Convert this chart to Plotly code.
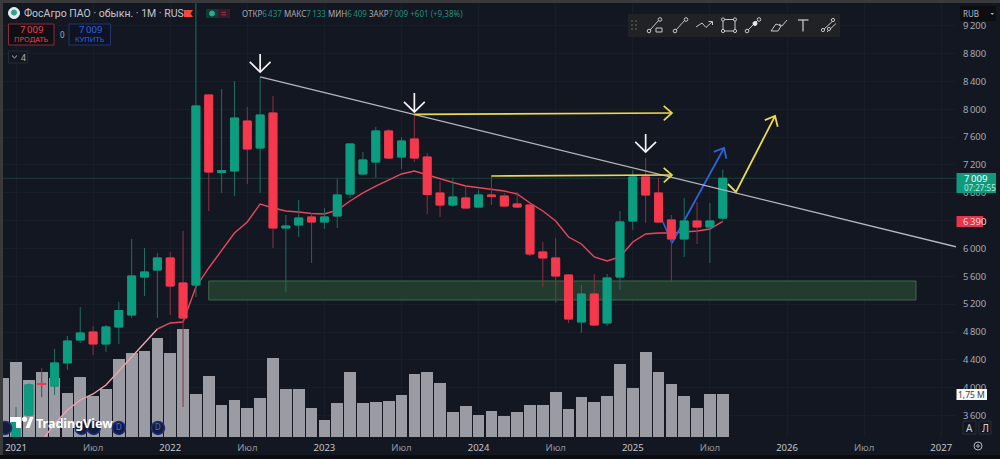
import math
import plotly.graph_objects as go

# Monthly candles, January 2021 onwards (months counted from January 2021)
opens = [3250, 3607, 4060, 4024, 4355, 4685, 4800, 4628, 4872, 5044, 5590, 5691, 5864, 5504, 5475, 8206,
         7092, 7114, 7832, 7444, 7947, 6295, 6338, 6453, 6381, 6467, 6783, 7071, 7243, 7689, 7315, 7574,
         7315, 6798, 6625, 6726, 6596, 6769, 6754, 6640, 6625, 5950, 5864, 5619, 4944, 5346, 4930, 5590,
         6395, 7028, 6798, 6410, 6137, 6395, 6309, 6437]
highs = [3720, 4060, 4283, 4556, 4743, 5159, 4886, 4901, 5231, 6137, 6007, 5935, 5950, 6252, 9600, 8206,
         8292, 8407, 8033, 8465, 8191, 6481, 6697, 6510, 6582, 7000, 7510, 7387, 7746, 7717, 7602, 7918,
         7372, 6970, 7013, 6884, 6841, 7056, 6798, 6812, 6630, 6093, 6151, 5625, 5475, 5634, 5634, 6539,
         7128, 7300, 7013, 6481, 6726, 6668, 6654, 7133]
lows = [3240, 3590, 3866, 3895, 4254, 4642, 4470, 4513, 4628, 5001, 5317, 5001, 5044, 3722, 5303, 6539,
        6797, 6754, 6927, 6797, 6007, 5375, 6165, 5792, 6280, 6295, 6726, 7060, 7013, 7290, 7142, 7243,
        6496, 6453, 6596, 6568, 6589, 6625, 6596, 6582, 5892, 5447, 5217, 4930, 4786, 4886, 4886, 5404,
        6266, 6367, 6375, 5519, 5878, 6065, 5792, 6409]
closes = [3510, 4039, 4045, 4355, 4671, 4786, 4628, 4872, 5109, 5605, 5662, 5864, 5461, 5001, 8048, 7099,
          7121, 7875, 7430, 7918, 6295, 6323, 6438, 6381, 6453, 6769, 7502, 7272, 7689, 7300, 7545, 7300,
          6776, 6625, 6740, 6582, 6769, 6747, 6611, 6596, 5921, 5864, 5605, 4987, 5346, 4901, 5576, 6381,
          7028, 6769, 6381, 6137, 6395, 6309, 6395, 7009]

# Moving average, first defined in March 2021
ma_values = [3234, 3478, 3679, 3823, 3909, 4039, 4240, 4441, 4628, 4843, 4930, 4944, 5447, 5720, 5964, 6223,
             6381, 6640, 6582, 6539, 6525, 6503, 6496, 6553, 6683, 6798, 6898, 6984, 7071, 7114, 7056, 6999,
             6948, 6898, 6877, 6855, 6826, 6783, 6654, 6539, 6395, 6165, 6065, 5878, 5820, 5878, 6093, 6208,
             6223, 6223, 6237, 6252, 6280, 6390]

# Traded volume in millions, December 2020 onwards
volumes = [2.40, 3.05, 2.32, 2.65, 2.40, 1.79, 2.44, 1.67, 1.95, 3.17, 3.42, 3.50, 4.03, 3.42, 4.40, 1.75,
           2.48, 1.30, 1.51, 1.18, 1.59, 3.22, 1.95, 1.95, 1.18, 0.69, 1.38, 2.65, 1.38, 1.42, 1.47, 1.71,
           2.56, 2.65, 2.20, 1.02, 1.26, 0.90, 1.06, 0.85, 1.02, 1.30, 1.30, 1.83, 1.14, 1.63, 1.42, 1.67,
           2.97, 1.99, 3.46, 2.65, 2.16, 1.67, 1.18, 1.75, 1.75]

# Time axis
time_ticks = [0, 6, 12, 18, 24, 30, 36, 42, 48, 54, 60, 66, 72]
time_labels = ["2021", "Июл", "2022", "Июл", "2023", "Июл", "2024", "Июл", "2025", "Июл", "2026", "Июл", "2027"]

# Price axis; the 6 400 label sits behind the moving-average badge
price_ticks = [3600, 4000, 4400, 4800, 5200, 5600, 6000, 6400, 6800, 7200, 7600, 8000, 8400, 8800, 9200]
price_labels = ["" if p == 6400 else f"{p // 1000}\u2009{p % 1000:03d}" for p in price_ticks]

# Hand-drawn annotations: month index and price
trend_x, trend_y = [19, 73.15], [8465, 6025]
zone_x, zone_y = [15, 70.04], [5260, 5533]
peak_arrows = [([19, 19], [8795, 8536]), ([31, 31], [8235, 7962]), ([49, 49], [7645, 7387])]
level_arrows = [([31, 51.05], [7926, 7947]), ([37, 51.05], [7042, 7056])]
breakout_x, breakout_y = [55.4, 56.03, 59.07], [6927, 6812, 7904]
rebound_x, rebound_y = [50.35, 51.05, 55.1], [6381, 6079, 7444]
dividend_months = [-0.85, 5.1, 6.05, 8, 11.05]
dividend_marks = ["", "", "", "D", "D"]
dividend_price = 3421
last_price = 7009

BG = "#131722"
GRID = "#191d28"
GREEN = "#0c9c80"
RED = "#f5384c"
GREEN_WICK = "#1d6f62"
RED_WICK = "#8c3040"
YELLOW = "#ecd94f"
BLUE = "#2f62d9"
WHITE = "#f2f2f2"
TEXT = "#b2b5be"
FONT = "Noto Sans"
THIN = "\u2009"

W, H = 1000, 459
LEFT, RIGHT, TOP, BOTTOM = 3, 956, 3, 437
MONTH_PX = 12.85
PRICE_PX = 0.0696


def px(x):
    return x / W


def py(y):
    return 1 - y / H


def arrow_head(xs, ys, length, spread=0.72):
    """Open chevron at the end of a polyline, sized in screen units."""
    dx = (xs[-1] - xs[-2]) * MONTH_PX
    dy = (ys[-1] - ys[-2]) * PRICE_PX
    n = math.hypot(dx, dy)
    dx, dy = dx / n, dy / n
    out_x, out_y = [], []
    for sign in (-1, 1):
        c, s = math.cos(sign * spread), math.sin(sign * spread)
        rx, ry = dx * c - dy * s, dx * s + dy * c
        out_x.append(xs[-1] - rx * length / MONTH_PX)
        out_y.append(ys[-1] - ry * length / PRICE_PX)
    return [out_x[0], xs[-1], out_x[1]], [out_y[0], ys[-1], out_y[1]]


fig = go.Figure()
candle_x = list(range(len(opens)))
volume_x = list(range(-1, len(volumes) - 1))
ma_x = list(range(2, 2 + len(ma_values)))
SPLIT = 9  # the average runs through the volume bars up to here


def polyline(xs, ys, color, width, axis):
    fig.add_trace(go.Scatter(x=xs, y=ys, mode="lines", yaxis=axis, hoverinfo="skip", showlegend=False,
                             line=dict(color=color, width=width)))


# Bottom layer: volume histogram
fig.add_trace(go.Bar(x=volume_x, y=volumes, width=0.91, yaxis="y", marker=dict(color="#9b9ba3", line_width=0),
                     showlegend=False, hoverinfo="skip"))

# Support zone and last-price line
fig.add_trace(go.Scatter(x=[zone_x[0], zone_x[1], zone_x[1], zone_x[0], zone_x[0]],
                         y=[zone_y[0], zone_y[0], zone_y[1], zone_y[1], zone_y[0]],
                         mode="lines", fill="toself", fillcolor="#233a2f", yaxis="y2", hoverinfo="skip",
                         showlegend=False, line=dict(color="#3d6a48", width=1)))
polyline([-1.01, 73.15], [last_price, last_price], "#1a3f3b", 1, "y2")

# Moving average and the rebound arrow sit under the candles
polyline(ma_x[:SPLIT + 1], ma_values[:SPLIT + 1], "#f0a3ac", 1.4, "y2")
polyline(ma_x[SPLIT:], ma_values[SPLIT:], "#e8485c", 1.4, "y2")
polyline(rebound_x, rebound_y, BLUE, 1.8, "y2")
hx, hy = arrow_head(rebound_x, rebound_y, 11)
polyline(hx, hy, BLUE, 1.8, "y2")

# Candles: wicks from the full range, bodies from open and close only
fig.add_trace(go.Candlestick(x=candle_x, open=opens, high=highs, low=lows, close=closes, yaxis="y3",
                             whiskerwidth=0, showlegend=False, hoverinfo="skip",
                             increasing=dict(line=dict(color=GREEN_WICK, width=1), fillcolor=GREEN),
                             decreasing=dict(line=dict(color=RED_WICK, width=1), fillcolor=RED)))
body_high = [max(o, c) for o, c in zip(opens, closes)]
body_low = [min(o, c) for o, c in zip(opens, closes)]
fig.add_trace(go.Candlestick(x=candle_x, open=opens, high=body_high, low=body_low, close=closes, yaxis="y3",
                             whiskerwidth=0, showlegend=False, hoverinfo="skip",
                             increasing=dict(line=dict(color=GREEN, width=1), fillcolor=GREEN),
                             decreasing=dict(line=dict(color=RED, width=1), fillcolor=RED)))

# Top layer: trend line, arrows, dividend marks
polyline(trend_x, trend_y, "#b6b8c0", 1.3, "y4")
for xs, ys in peak_arrows:
    polyline(xs, ys, WHITE, 1.7, "y4")
    hx, hy = arrow_head(xs, ys, 14.5, 0.8)
    polyline(hx, hy, WHITE, 1.7, "y4")
for xs, ys in level_arrows:
    polyline(xs, ys, YELLOW, 1.7, "y4")
    hx, hy = arrow_head(xs, ys, 11)
    polyline(hx, hy, YELLOW, 1.7, "y4")
polyline(breakout_x, breakout_y, YELLOW, 1.8, "y4")
hx, hy = arrow_head(breakout_x, breakout_y, 11)
polyline(hx, hy, YELLOW, 1.8, "y4")

fig.add_trace(go.Scatter(x=dividend_months, y=[dividend_price] * len(dividend_months), mode="markers+text",
                         yaxis="y4", text=dividend_marks, textposition="middle center",
                         textfont=dict(family=FONT, size=8, color="#3f6fe0"), hoverinfo="skip", showlegend=False,
                         marker=dict(size=13, color="#141c3c", line=dict(color="#1c2f7a", width=1.5))))

shapes = []
annotations = []


def label(x, y, text, size=11, color=TEXT, anchor="left", family=FONT):
    annotations.append(dict(x=px(x), y=py(y), xref="paper", yref="paper", text=text, showarrow=False,
                            xanchor=anchor, yanchor="middle", align=anchor,
                            font=dict(family=family, size=size, color=color), borderpad=0))


def seg(x0, y0, x1, y1, color="#c8c8c8", width=1):
    shapes.append(dict(type="line", xref="paper", yref="paper", x0=px(x0), y0=py(y0), x1=px(x1), y1=py(y1),
                       line=dict(color=color, width=width)))


def box(x0, y0, x1, y1, fill, line="rgba(0,0,0,0)", width=1, layer="above"):
    shapes.append(dict(type="rect", xref="paper", yref="paper", x0=px(x0), y0=py(y0), x1=px(x1), y1=py(y1),
                       fillcolor=fill, line=dict(color=line, width=width), layer=layer))


def dot(cx, cy, r, fill="rgba(0,0,0,0)", line="#c8c8c8", width=1):
    shapes.append(dict(type="circle", xref="paper", yref="paper", x0=px(cx - r), y0=py(cy - r), x1=px(cx + r),
                       y1=py(cy + r), fillcolor=fill, line=dict(color=line, width=width)))


def path(points, fill="rgba(0,0,0,0)", line="rgba(0,0,0,0)", width=1, close=True):
    d = "M" + " L".join(f"{px(x):.5f},{py(y):.5f}" for x, y in points) + (" Z" if close else "")
    shapes.append(dict(type="path", xref="paper", yref="paper", path=d, fillcolor=fill,
                       line=dict(color=line, width=width)))


# Window edges
box(0, 0, W, 3, "#3a3a3c")
box(0, 0, 3, H, "#3a3a3c")
box(0, 455, W, H, "#0b0c10")

# Title row
dot(14, 13, 5.5, "#e8eeee", "#e8eeee")
dot(14, 12.5, 2.6, "#2aa58e", "#2aa58e")
label(23, 13.5, "ФосАгро ПАО · обыкн. · 1М · RUS", 10.5, "#c4c6cc", family="Roboto")
path([(184, 10), (193, 10), (190.5, 13.5), (193, 17), (184, 17)], fill="#f04a3c")
box(206, 9, 218, 18, "#123a35")
box(218, 9, 230, 18, "#3a1a28")
dot(212, 13.5, 2.5, "#1fae92", "#1fae92")
seg(221.5, 12.3, 226, 12.3, "#a8304a", 1)
seg(221.5, 14.8, 226, 14.8, "#a8304a", 1)
val = '<span style="color:#1f8f7b">{}</span>'
label(241, 13.5, "ОТКР" + val.format(f"6{THIN}437") + " МАКС" + val.format(f"7{THIN}133") + " МИН"
      + val.format(f"6{THIN}409") + " ЗАКР" + val.format(f"7{THIN}009") + " " + val.format("+601 (+9,38%)"),
      8, "#a6a9b2")

# Order buttons
box(8.5, 24, 54, 45, "#0f0f14", "#8a2c36")
label(31, 30, f"7{THIN}009", 9.5, "#f0414f", "center")
label(31, 39, "ПРОДАТЬ", 7.5, "#f0414f", "center")
label(62, 34.5, "0", 8, "#a6a9b2", "center")
box(69, 24, 110.5, 45, "#0f1220", "#22376f")
label(90, 30, f"7{THIN}009", 9.5, "#2f62e8", "center")
label(90, 39, "КУПИТЬ", 7.5, "#2f62e8", "center")
box(8.5, 51, 27.5, 63, BG, "#262a35")
path([(12, 55.5), (14.5, 58), (17, 55.5)], line="#b8bbc2", close=False)
label(23, 57, "4", 8.5, "#b8bbc2", "center")

# Drawing toolbar
box(628, 14, 840, 37, "#212225")
for gy in (21, 25, 29):
    dot(632, gy, 0.5, "#5a5a5a", "#5a5a5a")
    dot(636, gy, 0.5, "#5a5a5a", "#5a5a5a")
seg(650, 30, 659, 20)
dot(649, 31, 1.8)
dot(660, 19.5, 1.8)
box(656, 28, 662, 32, "rgba(0,0,0,0)", "#c8c8c8")
seg(676, 30, 685, 20)
dot(675, 31, 1.8)
dot(686, 19.5, 1.8)
path([(696, 27), (702, 23), (706, 27.5), (712, 22)], line="#c8c8c8", close=False)
path([(708.5, 21.5), (712.5, 21.5), (712.5, 25)], line="#c8c8c8", close=False)
box(723, 19.5, 735, 31, "rgba(0,0,0,0)", "#c8c8c8")
for cx, cy in ((723, 19.5), (735, 19.5), (723, 31), (735, 31)):
    dot(cx, cy, 1.6, "#212225")
seg(748, 30, 758, 20)
dot(747, 31, 1.8)
dot(759, 19.5, 1.8)
dot(755, 23.5, 2, "#e8e8e8", "#e8e8e8")
path([(771, 31), (776, 24), (781, 26), (778, 31)], line="#c8c8c8")
seg(779, 24, 782, 26)
seg(782, 26, 787, 20)
seg(798, 20, 808.5, 20, "#d0d0d0", 1.2)
seg(803, 20, 803, 31.5, "#d0d0d0", 1.2)
seg(823, 30, 834, 20)
seg(827, 32, 836, 23.5)
dot(823, 30, 1.6, "#212225")
dot(833, 20, 1.6, "#212225")
dot(829, 29, 1.6, "#212225")

# Currency selector
box(960, 6, 996, 21, "#0d0e11")
label(961.5, 13.5, "RUB", 8, "#b8bbc2")
path([(990.5, 13), (994, 13), (992.2, 15)], fill="#b8bbc2")

# Axis badges
box(956.5, 173, 996, 193, "#0d9b80")
label(963, 178.8, f"7{THIN}009", 9.5, "#ffffff")
label(962.5, 188, "07:27:55", 8, "#bfe9df")
box(956.5, 216, 983, 227, "#e8334a")
label(962, 221.7, f"6{THIN}390", 9.5, "#f5d9dc")
box(956.5, 389, 987, 400, "#f7f7f7")
label(971.5, 394.5, "1,75 M", 8.5, "#3a3d46", "center")

# Chart corner controls
box(963, 421, 976, 434, BG, "#2a2e39")
label(969.5, 427.5, "А", 10, "#d0d2d8", "center")
box(979, 421, 991, 434, BG, "#2a2e39")
label(985, 427.5, "Л", 10, "#d0d2d8", "center")
dot(978, 446, 4, line="#b8bbc2")
dot(978, 446, 1.2, line="#b8bbc2")

# Watermark
path([(10, 417), (21, 417), (21, 428), (16, 428), (16, 422), (10, 422)], fill="#ffffff")
dot(24.5, 419.3, 2.2, "#ffffff", "#ffffff")
path([(25.5, 428), (30, 417), (33.5, 417), (29.5, 428)], fill="#ffffff")
label(35, 423.5, "<b>TradingView</b>", 12.5, "#ffffff")

tick_text = [f'<span style="color:{"#c4c6cc" if t.isdigit() else "#8f929b"}">{t}</span>' for t in time_labels]
price_range = [3291, 9528]
fig.update_layout(
    width=W, height=H, margin=dict(l=0, r=0, t=0, b=0), autosize=False,
    paper_bgcolor=BG, plot_bgcolor=BG, showlegend=False, bargap=0, boxgap=0.12, dragmode=False,
    font=dict(family=FONT, size=10, color=TEXT),
    shapes=shapes, annotations=annotations,
    xaxis=dict(domain=[px(LEFT), px(RIGHT)], range=[(LEFT - 16) / MONTH_PX, (RIGHT - 16) / MONTH_PX],
               tickvals=time_ticks, ticktext=tick_text, showgrid=True, gridcolor=GRID, gridwidth=1, zeroline=False,
               showline=False, ticks="", rangeslider=dict(visible=False), ticklabelstandoff=3,
               tickfont=dict(family=FONT, size=9.5)),
    yaxis=dict(domain=[py(BOTTOM), py(TOP)], range=[0, 17.66], showgrid=False, showticklabels=False, zeroline=False,
               fixedrange=True),
    yaxis2=dict(overlaying="y", side="right", anchor="x", range=price_range, tickvals=price_ticks,
                ticktext=price_labels, showgrid=True, gridcolor=GRID, gridwidth=1, zeroline=False, ticks="outside",
                ticklen=4, tickcolor="rgba(0,0,0,0)", tickfont=dict(family=FONT, size=9.5, color="#a6a9b2")),
    yaxis3=dict(overlaying="y", side="right", anchor="x", range=price_range, showgrid=False, showticklabels=False,
                zeroline=False),
    yaxis4=dict(overlaying="y", side="right", anchor="x", range=price_range, showgrid=False, showticklabels=False,
                zeroline=False),
)

fig.write_html("out.html", config=dict(displayModeBar=False))
